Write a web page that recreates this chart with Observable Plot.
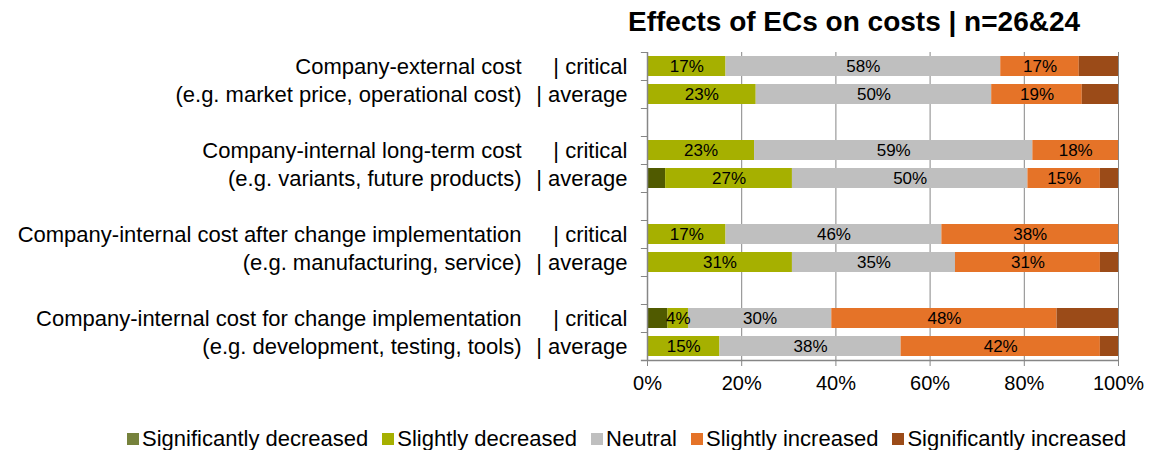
<!DOCTYPE html>
<html>
<head>
<meta charset="utf-8">
<script src="https://cdn.jsdelivr.net/npm/d3@7"></script>
<script src="https://cdn.jsdelivr.net/npm/@observablehq/plot@0.6"></script>
<style>
  html, body { margin: 0; padding: 0; background: #fff; }
  body { width: 1152px; height: 450px; overflow: hidden; font-family: "Liberation Sans", Arial, sans-serif; }
  #title { height: 40px; line-height: 44px; padding-left: 628px; font-weight: bold; font-size: 28px; color: #000; white-space: nowrap; }
  #legend { display: flex; align-items: center; padding-left: 127px; margin-top: 26px; font-size: 22px; color: #000; white-space: nowrap; }
  #legend .item { display: flex; align-items: center; margin-right: 14px; }
  #legend .sw { width: 12px; height: 12px; margin-right: 3px; }
</style>
</head>
<body>
<div id="title">Effects of ECs on costs | n=26&amp;24</div>
<div id="chart"></div>
<div id="legend"></div>
<script>
// ---- data ----
const categories = ["Significantly decreased", "Slightly decreased", "Neutral", "Slightly increased", "Significantly increased"];
const colors = ["#505a00", "#a6b000", "#bfbfbf", "#e57328", "#9b4b18"];
const legendColors = ["#76823c", "#a6b000", "#bfbfbf", "#e57328", "#9b4b18"];
const labelled = [false, true, true, true, false];

const rowKeys   = ["r1", "r2", "g1", "r3", "r4", "g2", "r5", "r6", "g3", "r7", "r8"];
const barKeys   = ["r1", "r2", "r3", "r4", "r5", "r6", "r7", "r8"];
const nameLines = [
  "Company-external cost", "(e.g. market price, operational cost)",
  "Company-internal long-term cost", "(e.g. variants, future products)",
  "Company-internal cost after change implementation", "(e.g. manufacturing, service)",
  "Company-internal cost for change implementation", "(e.g. development, testing, tools)"
];
const kindLabels = ["| critical", "| average", "| critical", "| average", "| critical", "| average", "| critical", "| average"];

// percentages per bar, in category order
const ext_critical   = [0,    16.67, 58.33, 16.67, 8.33];
const ext_average    = [0,    23.08, 50.00, 19.23, 7.69];
const long_critical  = [0,    22.73, 59.09, 18.18, 0];
const long_average   = [3.85, 26.92, 50.00, 15.38, 3.85];
const after_critical = [0,    16.67, 45.83, 37.50, 0];
const after_average  = [0,    30.77, 34.62, 30.77, 3.85];
const for_critical   = [4.35, 4.35,  30.43, 47.83, 13.04];
const for_average    = [0,    15.38, 38.46, 42.31, 3.85];
const seriesByBar = [ext_critical, ext_average, long_critical, long_average, after_critical, after_average, for_critical, for_average];

const xTicks = [0, 20, 40, 60, 80, 100];

// ---- build table ----
const data = [];
barKeys.forEach((k, i) => {
  seriesByBar[i].forEach((v, j) => {
    data.push({row: k, cat: categories[j], value: v, label: labelled[j] && v > 0 ? Math.round(v) + "%" : ""});
  });
});
const rowLabels = barKeys.map((k, i) => ({row: k, name: nameLines[i], kind: kindLabels[i]}));

const axisGrey = "#868686";

const chart = Plot.plot({
  width: 1152,
  height: 360,
  marginLeft: 647,
  marginRight: 34,
  marginTop: 12,
  marginBottom: 40,
  style: {fontFamily: "'Liberation Sans', Arial, sans-serif", background: "#fff"},
  x: {domain: [0, 100], label: null, axis: null},
  y: {domain: rowKeys, paddingInner: 0.28, paddingOuter: 0.14, axis: null},
  color: {domain: categories, range: colors},
  marks: [
    Plot.ruleX(xTicks.slice(1), {stroke: axisGrey, strokeWidth: 1}),
    Plot.barX(data, Plot.stackX({x: "value", y: "row", fill: "cat", z: "cat", order: categories})),
    Plot.text(data, Plot.stackX({x: "value", y: "row", z: "cat", text: "label", order: categories, fontSize: 17, fill: "#000"})),
    Plot.ruleX([0], {stroke: axisGrey, strokeWidth: 1.5}),
    // y-axis category boundary ticks
    Plot.ruleY(rowKeys, {y: d => d, x1: -1.3, x2: 0, dy: -14, stroke: axisGrey}),
    Plot.ruleY([rowKeys[rowKeys.length - 1]], {y: d => d, x1: -1.3, x2: 100, dy: 14, stroke: axisGrey, strokeWidth: 1.5}),
    Plot.axisX({ticks: xTicks, tickFormat: d => d + "%", tickSize: 6, tickPadding: 9, fontSize: 20, stroke: axisGrey, color: "#000", label: null}),
    // left labels
    Plot.text(rowLabels, {y: "row", text: "name", frameAnchor: "left", textAnchor: "end", dx: -126, fontSize: 22, fill: "#000"}),
    Plot.text(rowLabels, {y: "row", text: "kind", frameAnchor: "left", textAnchor: "end", dx: -20, fontSize: 22, fill: "#000"})
  ]
});
document.getElementById("chart").appendChild(chart);

const legend = document.getElementById("legend");
categories.forEach((c, i) => {
  const item = document.createElement("div");
  item.className = "item";
  const sw = document.createElement("div");
  sw.className = "sw";
  sw.style.background = legendColors[i];
  const t = document.createElement("span");
  t.textContent = c;
  item.appendChild(sw);
  item.appendChild(t);
  legend.appendChild(item);
});
</script>
</body>
</html>
